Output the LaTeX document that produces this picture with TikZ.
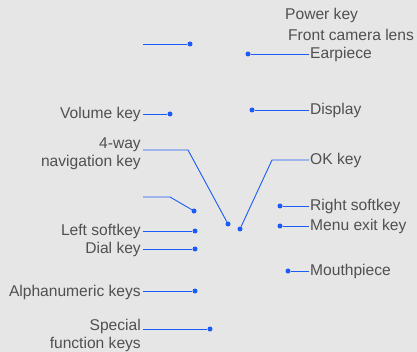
\documentclass[tikz,border=0pt]{standalone}
\usepackage{fontspec}
\setmainfont{Liberation Sans}
\definecolor{bg}{HTML}{E6E6E6}
\definecolor{txt}{HTML}{505050}
\definecolor{ln}{HTML}{1A5CF5}
\tikzset{
  lbl/.style={inner sep=0pt, text=txt, font=\fontsize{15.6}{18}\selectfont},
  lblL/.style={lbl, anchor=base east, align=right},
  lblR/.style={lbl, anchor=base west, align=left},
  dot/.style={circle, fill=ln, inner sep=0pt, minimum size=5pt},
  con/.style={draw=ln, line width=0.9pt}
}
\begin{document}
\begin{tikzpicture}[x=1pt,y=-1pt]
\fill[bg] (0,0) rectangle (417,352);
\useasboundingbox (0,0) rectangle (417,352);

% left side
\coordinate (u1) at (143,44);
\node[dot] (d1) at (190,44) {};
\draw[con] (u1) -- (d1);

\node[lblL] (vol) at (141,119) {Volume key};
\node[dot] (dvol) at (170,114) {};
\draw[con] (143,114) -- (dvol);

\node[lblL] (nav) at (141,167) {4-way\\navigation key};
\coordinate (nav1) at (143,150);
\coordinate (nav2) at (188,150);
\node[dot] (dnav) at (228,224) {};
\draw[con] (nav1) -- (nav2) -- (dnav);

\coordinate (u2) at (143,197);
\coordinate (u2b) at (170,197);
\node[dot] (du2) at (194,211) {};
\draw[con] (u2) -- (u2b) -- (du2);

\node[lblL] (ls) at (141,236) {Left softkey};
\node[dot] (dls) at (195,231) {};
\draw[con] (143,231) -- (dls);

\node[lblL] (dial) at (141,254) {Dial key};
\node[dot] (ddial) at (195,249) {};
\draw[con] (143,249) -- (ddial);

\node[lblL] (alpha) at (141,296) {Alphanumeric keys};
\node[dot] (dalpha) at (195,291) {};
\draw[con] (143,291) -- (dalpha);

\node[lblL] (spec) at (141,348) {Special\\function keys};
\node[dot] (dspec) at (210,329) {};
\draw[con] (143,329) -- (dspec);

% right side
\node[lbl, anchor=base west] (pow) at (285,20) {Power key};
\node[lbl, anchor=base west] (cam) at (288,41) {Front camera lens};

\node[lblR] (ear) at (310,59) {Earpiece};
\node[dot] (dear) at (248,54) {};
\draw[con] (dear) -- (309,54);

\node[lblR] (disp) at (310,115) {Display};
\node[dot] (ddisp) at (252,110) {};
\draw[con] (ddisp) -- (309,110);

\node[lblR] (ok) at (310,165) {OK key};
\coordinate (ok1) at (272,160);
\node[dot] (dok) at (240,229) {};
\draw[con] (dok) -- (ok1) -- (309,160);

\node[lblR] (rs) at (310,211) {Right softkey};
\node[dot] (drs) at (280,206) {};
\draw[con] (drs) -- (309,206);

\node[lblR] (menu) at (310,231) {Menu exit key};
\node[dot] (dmenu) at (280,226) {};
\draw[con] (dmenu) -- (309,226);

\node[lblR] (mouth) at (310,276) {Mouthpiece};
\node[dot] (dmouth) at (288,271) {};
\draw[con] (dmouth) -- (309,271);
\end{tikzpicture}
\end{document}
